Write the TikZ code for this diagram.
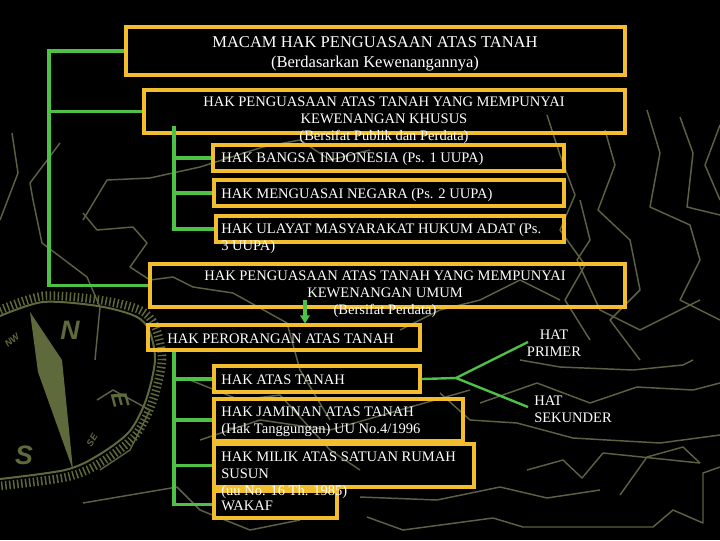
\documentclass[tikz,border=0pt]{standalone}
\usepackage{fontspec}
\setmainfont{Liberation Serif}
\newfontfamily\compfont{Liberation Sans}
\usetikzlibrary{arrows.meta,fit}
\definecolor{gold}{HTML}{F2BE2E}
\definecolor{grn}{HTML}{4DC247}
\definecolor{olv}{HTML}{5B6142}
\definecolor{olvc}{HTML}{5E6A3B}
\tikzset{
  box/.style={draw=gold, line width=2.3pt, inner sep=0pt},
  txt/.style={text=white, font=\fontsize{10.9}{12.7}\selectfont, inner sep=0pt},
  ttl/.style={text=white, font=\fontsize{12.4}{15}\selectfont, inner sep=0pt},
  conn/.style={draw=grn, line width=2.3pt},
  thinconn/.style={draw=grn, line width=1.8pt},
  deco/.style={draw=olv, line width=1.1pt, line join=round},
  comp/.style={text=olvc, inner sep=0pt, font=\compfont\bfseries\itshape},
}
\begin{document}
\begin{tikzpicture}[x=0.75pt,y=-0.75pt]
\fill[black] (0,0) rectangle (720,540);
\useasboundingbox (0,0) rectangle (720,540);

% background contour decoration
\draw[deco] (12,133) -- (18,173) -- (0,220);
\draw[deco] (60,143) -- (30,183) -- (33,200) -- (42,243) -- (87,277) -- (100,307) -- (95,360);
\draw[deco] (83,220) -- (107,180) -- (150,178) -- (200,167) -- (263,147) -- (300,140) -- (330,160) -- (370,150);
\draw[deco] (83,213) -- (97,230) -- (133,227) -- (147,243) -- (130,267) -- (150,280) -- (173,277) -- (193,287) -- (233,293) -- (287,323) -- (300,370) -- (330,420);
\draw[deco] (547,115) -- (560,155) -- (575,195) -- (560,230) -- (585,265) -- (565,300) -- (590,340);
\draw[deco] (605,130) -- (615,165) -- (598,210) -- (630,240) -- (640,290) -- (610,320) -- (640,360);
\draw[deco] (647,110) -- (660,153) -- (650,207) -- (690,225) -- (700,260) -- (680,300) -- (720,320);
\draw[deco] (680,117) -- (693,153) -- (687,207) -- (720,215);
\draw[deco] (720,125) -- (705,165) -- (720,200);
\draw[deco] (580,200) -- (590,240) -- (577,260) -- (600,310) -- (640,330) -- (700,300);
\draw[deco] (520,360) -- (560,367) -- (633,370) -- (683,365) -- (693,360);
\draw[deco] (480,403) -- (537,383) -- (590,403) -- (637,387) -- (693,390) -- (720,383);
\draw[deco] (440,393) -- (470,420) -- (517,423) -- (573,438) -- (607,440) -- (660,443) -- (720,435);
\draw[deco] (527,470) -- (563,460) -- (582,478) -- (603,453) -- (700,463);
\draw[deco] (620,495) -- (647,457) -- (683,447) -- (700,463);
\draw[deco] (360,497) -- (437,500) -- (500,487) -- (547,498) -- (600,490);
\draw[deco] (367,517) -- (403,530) -- (493,518) -- (523,527) -- (653,527) -- (673,510) -- (703,523) -- (703,473) -- (720,467);
\draw[deco] (97,400) -- (113,390) -- (150,410) -- (130,450) -- (100,470);
\draw[deco] (83,503) -- (177,487) -- (200,510) -- (250,530) -- (300,520);
\draw[deco] (200,440) -- (260,420) -- (330,430) -- (400,410) -- (470,390);
\draw[deco] (400,330) -- (440,310) -- (480,300) -- (520,280) -- (560,300);
\draw[deco] (190,380) -- (240,400) -- (280,395) -- (330,450) -- (360,470);

% compass
\draw[draw=olvc, line width=6.5pt, dash pattern=on 1.1pt off 1.9pt]
  plot[smooth] coordinates {(0,310) (43,296) (100,300) (140,310) (155,326) (162,360) (152,403) (134,437) (100,463) (67,477) (0,486)};
\draw[draw=olvc, line width=1.5pt]
  plot[smooth] coordinates {(0,316) (43,302) (98,306) (135,316) (149,330) (155,360) (146,400) (129,432) (97,456) (65,470) (0,479)};
\fill[olvc] (30,312) -- (62,360) -- (73,470) -- (38,372) -- cycle;
\node[comp, font=\compfont\bfseries\itshape\fontsize{20}{20}\selectfont] (cn) at (70,330) {N};
\node[comp, font=\compfont\bfseries\itshape\fontsize{17}{17}\selectfont, rotate=-75] (ce) at (120,400) {E};
\node[comp, font=\compfont\bfseries\itshape\fontsize{20}{20}\selectfont] (cs) at (24,455) {S};
\node[comp, font=\compfont\bfseries\itshape\fontsize{7}{7}\selectfont, rotate=60] (cse) at (92,440) {SE};
\node[comp, font=\compfont\bfseries\itshape\fontsize{7}{7}\selectfont, rotate=40] (cnw) at (12,340) {NW};

% boxes
\node[box, fit={(126,27) (625,75)}] (b1) {};
\node[box, fit={(144,90) (625,133)}] (b2) {};
\node[box, fit={(213,145) (564,171)}] (b3) {};
\node[box, fit={(214,180) (564,206)}] (b4) {};
\node[box, fit={(216,216) (564,242)}] (b5) {};
\node[box, fit={(150,264) (625,307)}] (b6) {};
\node[box, fit={(148,325) (420,350)}] (b7) {};
\node[box, fit={(214,366) (420,392)}] (b8) {};
\node[box, fit={(214,399) (463,441)}] (b9) {};
\node[box, fit={(214,444) (474,487)}] (b10) {};
\node[box, fit={(214,491) (337,518)}] (b11) {};

% texts
\node[ttl] (t1) at (375,42.5) {MACAM HAK PENGUASAAN ATAS TANAH};
\node[ttl] (t1b) at (375,63.5) {(Berdasarkan Kewenangannya)};
\node[txt, align=center] (t2) at (384,120.5) {HAK PENGUASAAN ATAS TANAH YANG MEMPUNYAI\\KEWENANGAN KHUSUS\\(Bersifat Publik dan Perdata)};
\node[txt, anchor=west] (t3) at (221,159) {HAK BANGSA INDONESIA (Ps. 1 UUPA)};
\node[txt, anchor=west] (t4) at (221,195) {HAK MENGUASAI NEGARA (Ps. 2 UUPA)};
\node[txt, anchor=west, align=left] (t5) at (221,238.5) {HAK ULAYAT MASYARAKAT HUKUM ADAT (Ps.\\3 UUPA)};
\node[txt, align=center] (t6) at (385,294.5) {HAK PENGUASAAN ATAS TANAH YANG MEMPUNYAI\\KEWENANGAN UMUM\\(Bersifat Perdata)};
\node[txt, anchor=west] (t7) at (167,339) {HAK PERORANGAN ATAS TANAH};
\node[txt, anchor=west] (t8) at (221,380) {HAK ATAS TANAH};
\node[txt, anchor=west, align=left] (t9) at (221,421.5) {HAK JAMINAN ATAS TANAH\\(Hak Tanggungan) UU No.4/1996};
\node[txt, anchor=west, align=left] (t10) at (221,475) {HAK MILIK ATAS SATUAN RUMAH\\SUSUN\\(uu No. 16 Th. 1985)};
\node[txt, anchor=west] (t11) at (221,506) {WAKAF};
\node[txt, align=center] (hp) at (554,343.5) {HAT\\PRIMER};
\node[txt, anchor=west, align=left] (hs) at (534,409.5) {HAT\\SEKUNDER};

% connectors
\coordinate (tr1) at (49,48);
\draw[conn] (b1.west) -- (b1.west -| tr1) -- (tr1 |- b6.west) -- (b6.west);
\draw[conn] (b2.west) -- (b2.west -| tr1);
\coordinate (tr3) at (174,126);
\draw[conn] (tr3) |- (b5.west);
\draw[conn] (b3.west -| tr3) -- (b3.west);
\draw[conn] (b4.west -| tr3) -- (b4.west);
\coordinate (ar) at (305,300);
\draw[conn, -{Triangle[length=6pt,width=7pt]}] (ar) -- (ar |- b7.north);
\coordinate (tr4) at (174,350);
\draw[conn] (b7.south -| tr4) |- (b11.west);
\draw[conn] (b8.west -| tr4) -- (b8.west);
\draw[conn] (b9.west -| tr4) -- (b9.west);
\draw[conn] (b10.west -| tr4) -- (b10.west);
\coordinate (fk) at (456,378);
\coordinate (hpe) at (528,342);
\coordinate (hse) at (528,407);
\draw[thinconn] (b8.east) -- (fk) -- (hpe);
\draw[thinconn] (fk) -- (hse);
\end{tikzpicture}
\end{document}
